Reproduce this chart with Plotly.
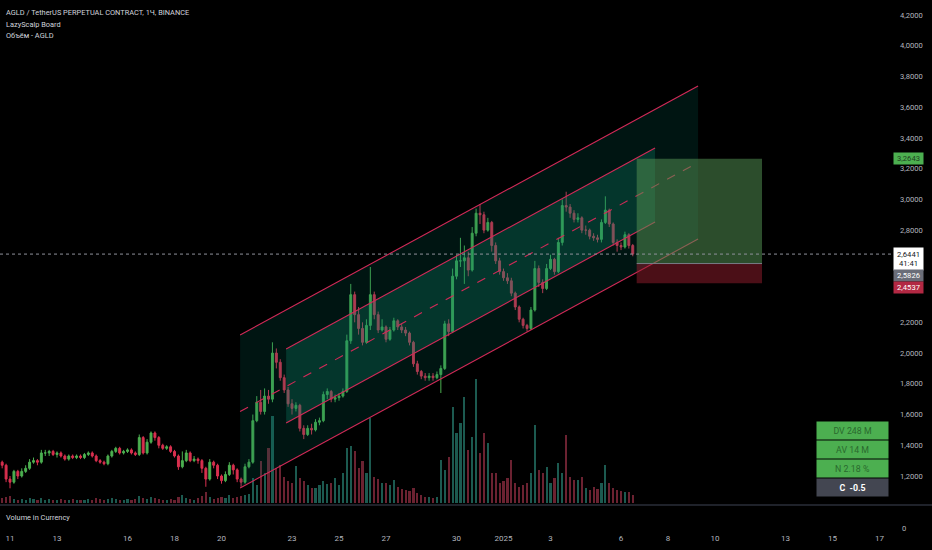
import pandas as pd
import plotly.graph_objects as go

# 4h candles, AGLD/USDT perp
opens = [1.28, 1.29, 1.27, 1.18, 1.16, 1.23, 1.20, 1.23, 1.25, 1.29,
         1.30, 1.29, 1.35, 1.35, 1.36, 1.34, 1.35, 1.33, 1.31, 1.33,
         1.32, 1.33, 1.32, 1.34, 1.35, 1.33, 1.30, 1.29, 1.28, 1.33,
         1.36, 1.38, 1.35, 1.36, 1.37, 1.35, 1.34, 1.45, 1.35, 1.42,
         1.48, 1.45, 1.40, 1.38, 1.39, 1.36, 1.33, 1.26, 1.30, 1.35,
         1.30, 1.31, 1.30, 1.25, 1.18, 1.29, 1.27, 1.20, 1.17, 1.21,
         1.27, 1.24, 1.18, 1.16, 1.26, 1.29, 1.56, 1.68, 1.62, 1.72,
         1.70, 2.00, 1.94, 1.84, 1.76, 1.67, 1.64, 1.66, 1.51, 1.47,
         1.51, 1.50, 1.55, 1.56, 1.73, 1.75, 1.70, 1.71, 1.72, 1.75,
         2.08, 2.38, 2.25, 2.16, 2.07, 2.18, 2.38, 2.25, 2.15, 2.17,
         2.09, 2.15, 2.21, 2.17, 2.15, 2.13, 2.07, 1.93, 1.88, 1.85,
         1.84, 1.85, 1.84, 1.86, 1.90, 2.19, 2.14, 2.50, 2.60, 2.60,
         2.62, 2.54, 2.78, 2.91, 2.90, 2.80, 2.85, 2.70, 2.60, 2.53,
         2.49, 2.47, 2.39, 2.30, 2.22, 2.18, 2.16, 2.28, 2.55, 2.46,
         2.42, 2.55, 2.61, 2.53, 2.72, 2.96, 2.95, 2.91, 2.87, 2.88,
         2.80, 2.80, 2.76, 2.75, 2.74, 2.85, 2.93, 2.84, 2.72, 2.70,
         2.69, 2.77, 2.70]
highs = [1.31, 1.30, 1.28, 1.20, 1.24, 1.24, 1.25, 1.27, 1.31, 1.32,
         1.31, 1.37, 1.37, 1.37, 1.37, 1.36, 1.36, 1.34, 1.34, 1.34,
         1.34, 1.34, 1.35, 1.36, 1.36, 1.34, 1.31, 1.30, 1.34, 1.37,
         1.39, 1.39, 1.37, 1.38, 1.38, 1.36, 1.47, 1.46, 1.44, 1.49,
         1.49, 1.46, 1.41, 1.40, 1.40, 1.37, 1.34, 1.36, 1.37, 1.36,
         1.33, 1.32, 1.31, 1.26, 1.31, 1.30, 1.28, 1.21, 1.23, 1.29,
         1.28, 1.25, 1.19, 1.28, 1.31, 1.60, 1.72, 1.76, 1.77, 1.76,
         2.07, 2.03, 1.96, 1.86, 1.78, 1.70, 1.68, 1.67, 1.53, 1.53,
         1.54, 1.57, 1.58, 1.75, 1.77, 1.76, 1.73, 1.74, 1.77, 2.12,
         2.45, 2.40, 2.30, 2.20, 2.22, 2.56, 2.40, 2.27, 2.22, 2.18,
         2.17, 2.23, 2.22, 2.19, 2.17, 2.14, 2.08, 1.95, 1.89, 1.87,
         1.87, 1.87, 1.88, 1.92, 2.21, 2.22, 2.55, 2.64, 2.75, 2.70,
         2.66, 2.82, 2.94, 2.97, 2.92, 2.88, 2.86, 2.72, 2.62, 2.55,
         2.52, 2.49, 2.40, 2.31, 2.23, 2.19, 2.30, 2.60, 2.57, 2.48,
         2.58, 2.64, 2.62, 2.75, 3.00, 3.05, 2.97, 2.93, 2.91, 2.89,
         2.83, 2.81, 2.78, 2.77, 2.87, 3.02, 2.94, 2.85, 2.74, 2.72,
         2.79, 2.78, 2.71]
lows = [1.27, 1.25, 1.16, 1.12, 1.15, 1.18, 1.19, 1.22, 1.24, 1.28,
        1.27, 1.28, 1.33, 1.33, 1.33, 1.32, 1.32, 1.30, 1.30, 1.31,
        1.31, 1.31, 1.31, 1.33, 1.32, 1.29, 1.28, 1.27, 1.27, 1.32,
        1.35, 1.34, 1.34, 1.35, 1.34, 1.33, 1.33, 1.34, 1.34, 1.41,
        1.43, 1.38, 1.37, 1.37, 1.35, 1.32, 1.24, 1.25, 1.29, 1.29,
        1.29, 1.28, 1.22, 1.13, 1.17, 1.25, 1.18, 1.15, 1.16, 1.20,
        1.21, 1.16, 1.13, 1.15, 1.25, 1.28, 1.55, 1.60, 1.60, 1.67,
        1.68, 1.90, 1.82, 1.74, 1.65, 1.60, 1.62, 1.49, 1.44, 1.46,
        1.47, 1.49, 1.53, 1.55, 1.70, 1.68, 1.68, 1.69, 1.71, 1.74,
        2.06, 2.20, 2.12, 2.05, 2.06, 2.15, 2.22, 2.13, 2.14, 2.07,
        2.08, 2.14, 2.15, 2.13, 2.11, 2.05, 1.91, 1.86, 1.83, 1.82,
        1.82, 1.82, 1.83, 1.74, 1.89, 2.11, 2.13, 2.48, 2.56, 2.45,
        2.50, 2.53, 2.76, 2.84, 2.78, 2.79, 2.66, 2.58, 2.51, 2.47,
        2.45, 2.37, 2.28, 2.20, 2.16, 2.14, 2.15, 2.27, 2.43, 2.39,
        2.41, 2.54, 2.51, 2.52, 2.70, 2.92, 2.88, 2.85, 2.85, 2.78,
        2.77, 2.74, 2.73, 2.72, 2.72, 2.84, 2.82, 2.70, 2.66, 2.67,
        2.68, 2.68, 2.63]
closes = [1.29, 1.27, 1.18, 1.16, 1.23, 1.20, 1.23, 1.25, 1.29, 1.30,
          1.29, 1.35, 1.35, 1.36, 1.34, 1.35, 1.33, 1.31, 1.33, 1.32,
          1.33, 1.32, 1.34, 1.35, 1.33, 1.30, 1.29, 1.28, 1.33, 1.36,
          1.38, 1.35, 1.36, 1.37, 1.35, 1.34, 1.45, 1.35, 1.42, 1.48,
          1.45, 1.40, 1.38, 1.39, 1.36, 1.33, 1.26, 1.30, 1.35, 1.30,
          1.31, 1.30, 1.25, 1.18, 1.29, 1.27, 1.20, 1.17, 1.21, 1.27,
          1.24, 1.18, 1.16, 1.26, 1.29, 1.56, 1.68, 1.62, 1.72, 1.70,
          2.00, 1.94, 1.84, 1.76, 1.67, 1.64, 1.66, 1.51, 1.47, 1.51,
          1.50, 1.55, 1.56, 1.73, 1.75, 1.70, 1.71, 1.72, 1.75, 2.08,
          2.38, 2.25, 2.16, 2.07, 2.18, 2.38, 2.25, 2.15, 2.17, 2.09,
          2.15, 2.21, 2.17, 2.15, 2.13, 2.07, 1.93, 1.88, 1.85, 1.84,
          1.85, 1.84, 1.86, 1.90, 2.19, 2.14, 2.50, 2.60, 2.60, 2.62,
          2.54, 2.78, 2.91, 2.90, 2.80, 2.85, 2.70, 2.60, 2.53, 2.49,
          2.47, 2.39, 2.30, 2.22, 2.18, 2.16, 2.28, 2.55, 2.46, 2.42,
          2.55, 2.61, 2.53, 2.72, 2.96, 2.95, 2.91, 2.87, 2.88, 2.80,
          2.80, 2.76, 2.75, 2.74, 2.85, 2.93, 2.84, 2.72, 2.70, 2.69,
          2.77, 2.70, 2.6441]
# volume per candle, millions USDT
volumes = [0.4, 0.5, 0.6, 0.7, 0.4, 0.3, 0.4, 0.3, 0.5, 0.4,
           0.3, 0.5, 0.3, 0.4, 0.3, 0.3, 0.4, 0.3, 0.3, 0.4,
           0.3, 0.3, 0.3, 0.4, 0.3, 0.5, 0.4, 0.3, 0.4, 0.5,
           0.4, 0.3, 0.3, 0.4, 0.3, 0.4, 0.7, 0.5, 0.4, 0.6,
           0.5, 0.4, 0.3, 0.3, 0.4, 0.3, 0.6, 0.8, 0.5, 0.4,
           0.3, 0.5, 0.7, 1.1, 0.6, 0.4, 0.5, 0.6, 0.5, 0.8,
           0.5, 0.6, 0.7, 0.8, 0.9, 2.5, 1.8, 4.2, 3.0, 5.5,
           8.7, 3.5, 3.8, 2.6, 2.2, 2.0, 3.7, 2.5, 2.2, 1.8,
           1.5, 1.5, 1.8, 2.2, 1.9, 2.0, 2.5, 1.8, 3.0, 5.5,
           5.7, 5.2, 3.5, 4.2, 3.0, 8.5, 2.6, 2.4, 2.0, 2.0,
           1.8, 2.3, 1.6, 1.4, 1.3, 1.2, 1.5, 1.0, 0.8, 0.6,
           0.6, 0.5, 0.6, 4.3, 3.3, 4.6, 9.6, 7.0, 8.0, 10.6,
           5.3, 6.6, 12.4, 5.0, 7.0, 6.0, 3.0, 3.0, 2.0, 2.2,
           2.5, 4.3, 2.0, 1.6, 1.8, 2.0, 3.0, 7.8, 3.3, 3.0,
           3.6, 2.0, 2.5, 4.0, 3.0, 6.8, 2.6, 2.3, 2.3, 2.6,
           1.5, 1.3, 1.6, 1.4, 2.0, 3.8, 2.0, 1.5, 1.3, 1.2,
           1.1, 1.1, 0.8]
candle_time = pd.date_range('2024-12-10 12:00', periods=len(closes), freq='4h')

# parallel channel drawing (anchors)
outer_x = ['2024-12-20 19:00', '2025-01-09 06:40']
outer_top = [2.118, 3.738]
outer_bot = [1.122, 2.742]
mid_line = [1.620, 3.240]
inner_x = ['2024-12-22 18:00', '2025-01-07 10:45']
inner_top = [2.027, 3.335]
inner_bot = [1.545, 2.853]

# long position tool
pos_x = ['2025-01-06 16:00', '2025-01-12 00:00']
target = 3.2643
entry = 2.5826
stop = 2.4537
last_price = 2.6441

x_ticks = ['2024-12-11', '2024-12-13', '2024-12-16', '2024-12-18', '2024-12-20',
           '2024-12-23', '2024-12-25', '2024-12-27', '2024-12-30', '2025-01-01',
           '2025-01-03', '2025-01-06', '2025-01-08', '2025-01-10', '2025-01-13',
           '2025-01-15', '2025-01-17']
x_labels = ['11', '13', '16', '18', '20', '23', '25', '27', '30', '2025',
            '3', '6', '8', '10', '13', '15', '17']
price_ticks = [1.2, 1.4, 1.6, 1.8, 2.0, 2.2, 2.8, 3.0, 3.2, 3.4, 3.6, 3.8, 4.0, 4.2]

board_rows = ['DV 248 M', 'AV 14 M', 'N 2.18 %', 'C  -0.5']

GREEN = '#4caf50'
RED = '#d9304f'
CHAN = '#d22a58'
W, H = 932, 550


def fmt(v):
    return f'{v:.4f}'.replace('.', ',')


def px(x, y):
    return x / W, 1 - y / H


fig = go.Figure()

# volume (base axis, drawn under the candles)
vol_colors = ['#1c5a50' if c >= o else '#6b2231' for o, c in zip(opens, closes)]
fig.add_trace(go.Bar(x=candle_time, y=volumes, marker_color=vol_colors,
                     marker_line_width=0, width=4 * 3600 * 1000 * 0.55,
                     yaxis='y', hoverinfo='skip', showlegend=False))

# channel fills
fig.add_trace(go.Scatter(x=[outer_x[0], outer_x[1], outer_x[1], outer_x[0]],
                         y=[outer_top[0], outer_top[1], outer_bot[1], outer_bot[0]],
                         fill='toself', fillcolor='rgba(0,105,92,0.2)', mode='none',
                         yaxis='y2', hoverinfo='skip', showlegend=False))
fig.add_trace(go.Scatter(x=[inner_x[0], inner_x[1], inner_x[1], inner_x[0]],
                         y=[inner_top[0], inner_top[1], inner_bot[1], inner_bot[0]],
                         fill='toself', fillcolor='rgba(15,140,110,0.28)', mode='none',
                         yaxis='y2', hoverinfo='skip', showlegend=False))

fig.add_trace(go.Candlestick(x=candle_time, open=opens, high=highs, low=lows, close=closes,
                             increasing=dict(line=dict(color=GREEN, width=1), fillcolor=GREEN),
                             decreasing=dict(line=dict(color=RED, width=1), fillcolor=RED),
                             whiskerwidth=0, yaxis='y2', showlegend=False, hoverinfo='skip'))

# channel lines
for xs, ys, dash in [(outer_x, outer_top, 'solid'), (outer_x, outer_bot, 'solid'),
                     (outer_x, mid_line, 'dash'), (inner_x, inner_top, 'solid'),
                     (inner_x, inner_bot, 'solid')]:
    fig.add_trace(go.Scatter(x=xs, y=ys, mode='lines', line=dict(color=CHAN, width=1.1, dash=dash),
                             yaxis='y2', hoverinfo='skip', showlegend=False))

# empty trace so the volume-title pane exists
fig.add_trace(go.Scatter(x=[candle_time[0]], y=[None], yaxis='y3', showlegend=False))

shapes = [
    dict(type='rect', xref='x', yref='y2', x0=pos_x[0], x1=pos_x[1], y0=entry, y1=target,
         fillcolor='rgba(80,140,80,0.55)', line_width=0, layer='above'),
    dict(type='rect', xref='x', yref='y2', x0=pos_x[0], x1=pos_x[1], y0=stop, y1=entry,
         fillcolor='rgba(150,30,45,0.5)', line_width=0, layer='above'),
    dict(type='line', xref='x', yref='y2', x0=pos_x[0], x1=pos_x[1], y0=entry, y1=entry,
         line=dict(color='#787b86', width=1)),
    dict(type='line', xref='x domain', yref='y2', x0=0, x1=1, y0=last_price, y1=last_price,
         line=dict(color='#8f929b', width=1, dash='dot')),
    dict(type='line', xref='paper', yref='paper', x0=0, x1=1, y0=45 / H, y1=45 / H,
         line=dict(color='#2a2e39', width=1.5)),
]

annotations = []
title_lines = ['AGLD / TetherUS PERPETUAL CONTRACT, 1Ч, BINANCE', 'LazyScalp Board', 'Объём - AGLD']
for i, t in enumerate(title_lines):
    ax, ay = px(4, 12 + 12 * i)
    annotations.append(dict(text=t, x=ax, y=ay, xref='paper', yref='paper', xanchor='left',
                            yanchor='middle', showarrow=False,
                            font=dict(size=7.4, color='#d1d4dc')))
ax, ay = px(4, 517)
annotations.append(dict(text='Volume in Currency', x=ax, y=ay, xref='paper', yref='paper',
                        xanchor='left', yanchor='middle', showarrow=False,
                        font=dict(size=7.4, color='#d1d4dc')))

# price scale labels
for text, yc, h, bg, fc in [(fmt(target), 158.5, 11, GREEN, '#1f3f22'),
                            (fmt(last_price) + '<br>41:41', 259, 22, '#ffffff', '#131722'),
                            (fmt(entry), 275.5, 11, '#6a6d78', '#ffffff'),
                            (fmt(stop), 287.5, 11, '#b22843', '#ffffff')]:
    ax, ay = px(908.5, yc)
    annotations.append(dict(text=text, x=ax, y=ay, xref='paper', yref='paper', xanchor='center',
                            yanchor='middle', showarrow=False, width=29, height=h, bgcolor=bg,
                            borderpad=0, font=dict(size=7.6, color=fc)))

# LazyScalp board
for i, row in enumerate(board_rows):
    last = i == len(board_rows) - 1
    ax, ay = px(852.5, 430.5 + 19 * i)
    annotations.append(dict(text=('<b>' + row + '</b>') if last else row, x=ax, y=ay,
                            xref='paper', yref='paper', xanchor='center', yanchor='middle',
                            showarrow=False, width=71, height=17, borderpad=0,
                            bgcolor='#434651' if last else GREEN,
                            font=dict(size=8.8, color='#ffffff' if last else '#2a6a2e')))

fig.update_layout(
    width=W, height=H,
    margin=dict(l=0, r=0, t=0, b=0),
    paper_bgcolor='#000000', plot_bgcolor='#000000',
    font=dict(family='Roboto', color='#b2b5be'),
    separators=', ',
    showlegend=False,
    bargap=0,
    xaxis=dict(domain=[0, 893 / W], anchor='y3', type='date',
               range=['2024-12-10 13:47', '2025-01-17 13:46'],
               tickvals=x_ticks, ticktext=x_labels, tickfont=dict(size=8, color='#b2b5be'),
               showgrid=False, zeroline=False, showline=False, ticks='',
               rangeslider=dict(visible=False)),
    yaxis=dict(domain=[45 / H, 1], anchor='x', range=[-0.2, 50.3], visible=False,
               showgrid=False, zeroline=False),
    yaxis2=dict(overlaying='y', anchor='x', side='right', range=[1.0113, 4.2976],
                tickvals=price_ticks, tickformat='.4f', tickfont=dict(size=7.6, color='#b2b5be'),
                showgrid=False, zeroline=False, showline=False, ticks='', ticklabelstandoff=6),
    yaxis3=dict(domain=[18 / H, 43 / H], anchor='x', side='right', range=[-0.15, 1],
                tickvals=[0], ticktext=['0'], tickfont=dict(size=7.6, color='#b2b5be'),
                showgrid=False, zeroline=False, showline=False, ticks='', ticklabelstandoff=8),
    shapes=shapes,
    annotations=annotations,
)

# drop the page's default body margin so the figure sits at the window corner
fig.write_html('out.html', config={'displayModeBar': False},
               post_script="document.body.style.margin='0';document.body.style.background='#000';")
